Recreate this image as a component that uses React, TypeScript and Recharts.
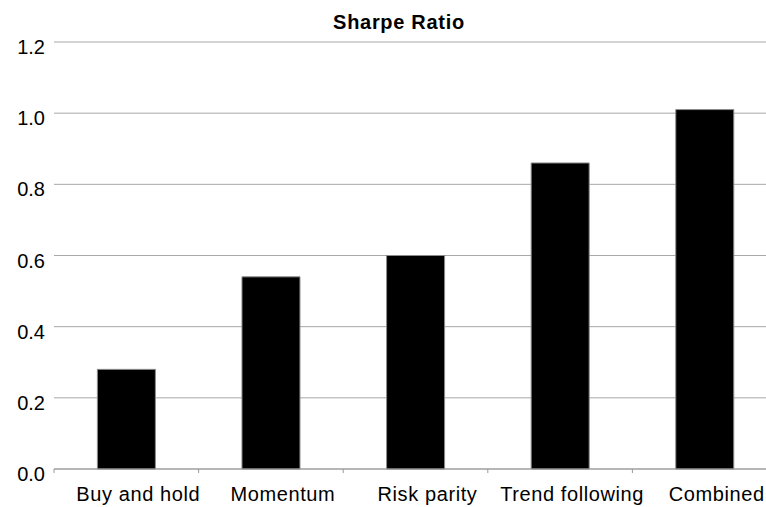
import { BarChart, Bar, XAxis, YAxis, CartesianGrid } from 'recharts';

const strategies = ['Buy and hold', 'Momentum', 'Risk parity', 'Trend following', 'Combined'];
const sharpe = [0.28, 0.54, 0.6, 0.86, 1.01];
const yTicks = [0, 0.2, 0.4, 0.6, 0.8, 1.0, 1.2];

const data = strategies.map((name, i) => ({ name, value: sharpe[i] }));

const FONT = '"Liberation Sans", Arial, sans-serif';
const CHART_W = 777;
const Y_AXIS_W = 54;
const BAND = (CHART_W - Y_AXIS_W) / strategies.length;

function YTick({ x, y, payload }: any) {
  return (
    <text x={x} y={y + 12} textAnchor="end" fontSize={20} fontFamily={FONT} fill="#000">
      {Number(payload.value).toFixed(1)}
    </text>
  );
}

// label in the middle of the category, small tick mark on its left edge
function XTick({ x, y, payload }: any) {
  const left = x - BAND / 2;
  return (
    <g>
      <line x1={left} x2={left} y1={y} y2={y + 4} stroke="#999" />
      <text x={x + 12} y={y + 32} textAnchor="middle" fontSize={20} fontFamily={FONT} fill="#000" letterSpacing={0.6}>
        {payload.value}
      </text>
    </g>
  );
}

export default function App() {
  return (
    <div style={{ position: 'absolute', left: 0, top: 0, width: 766, height: 507, overflow: 'hidden', background: '#fff' }}>
      <div
        style={{
          position: 'absolute',
          left: 299,
          width: 200,
          top: 12,
          textAlign: 'center',
          fontFamily: FONT,
          fontWeight: 'bold',
          fontSize: 20,
          letterSpacing: 0.7,
          lineHeight: '20px',
        }}
      >
        Sharpe Ratio
      </div>
      <BarChart
        width={CHART_W}
        height={507}
        data={data}
        margin={{ top: 42, right: 0, left: 0, bottom: 0 }}
        barCategoryGap="30%"
      >
        <CartesianGrid vertical={false} stroke="#a8a8a8" />
        <XAxis
          dataKey="name"
          height={38}
          interval={0}
          tickSize={0}
          tickMargin={0}
          tick={<XTick />}
          axisLine={{ stroke: '#999' }}
          tickLine={false}
        />
        <YAxis
          width={Y_AXIS_W}
          domain={[0, 1.2]}
          ticks={yTicks}
          axisLine={false}
          tickLine={false}
          tickSize={0}
          tickMargin={9}
          tick={<YTick />}
        />
        <Bar dataKey="value" fill="#000" stroke="#8a8a8a" strokeWidth={1} isAnimationActive={false} />
      </BarChart>
    </div>
  );
}
